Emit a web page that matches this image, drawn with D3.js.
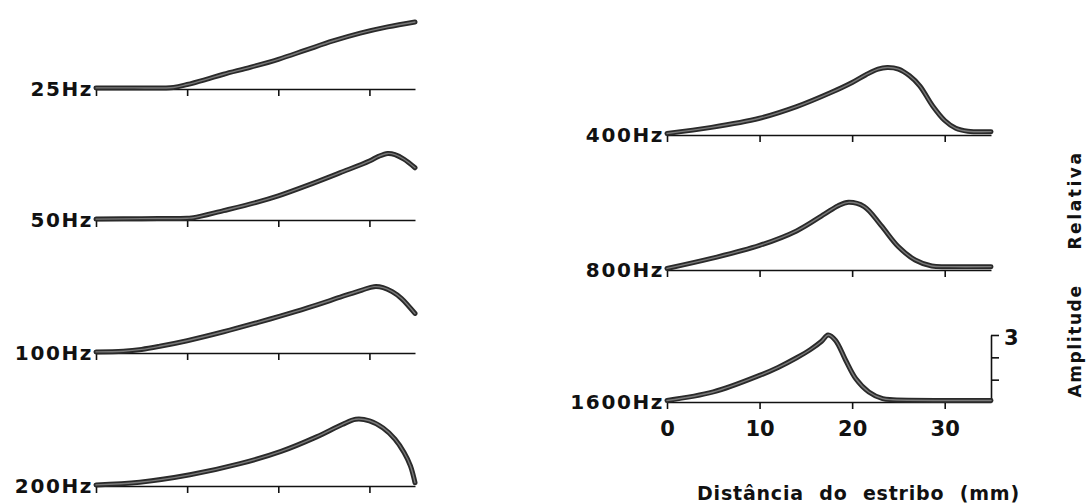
<!DOCTYPE html>
<html>
<head>
<meta charset="utf-8">
<script src="https://cdn.jsdelivr.net/npm/d3@7"></script>
<style>
  html, body { margin: 0; padding: 0; background: #fff; }
  svg { display: block; }
  text { font-family: "DejaVu Sans", "Liberation Sans", sans-serif; font-weight: bold; fill: #111; }
</style>
</head>
<body>
<svg id="chart" width="1088" height="504"></svg>
<script>
// ---- data (distance from stapes in mm, relative amplitude) ----
const freqLabels = ["25Hz", "50Hz", "100Hz", "200Hz", "400Hz", "800Hz", "1600Hz"];

const dist25 = [0, 4, 8.5, 10, 12, 14, 17, 20, 23, 26, 29, 32, 35];
const amp25  = [0.05, 0.05, 0.07, 0.2, 0.42, 0.66, 0.98, 1.33, 1.74, 2.15, 2.5, 2.78, 3.0];

const dist50 = [0, 5, 10, 10.7, 14, 17.7, 20, 23.2, 26.8, 30, 31, 32, 32.8, 33.8, 35];
const amp50  = [0.04, 0.06, 0.08, 0.1, 0.42, 0.8, 1.08, 1.55, 2.12, 2.64, 2.85, 2.98, 2.93, 2.72, 2.34];

const dist100 = [0, 3, 5, 7, 10, 14, 17.7, 20.2, 23.2, 26.8, 29.2, 30.5, 31.5, 32.5, 33.5, 35];
const amp100  = [0.05, 0.08, 0.16, 0.3, 0.55, 0.95, 1.36, 1.65, 2.02, 2.5, 2.82, 2.97, 2.93, 2.75, 2.45, 1.77];

const dist200 = [0, 4.8, 10.3, 15.8, 20.3, 24.2, 27, 28.5, 30, 31.5, 32.8, 33.8, 34.5, 35];
const amp200  = [0.05, 0.17, 0.5, 1.0, 1.55, 2.2, 2.75, 2.99, 2.92, 2.6, 2.1, 1.5, 0.9, 0.15];

const dist400 = [0, 4.8, 10, 14, 17.7, 20, 21.5, 22.8, 23.8, 25, 26.2, 27.3, 28.7, 30, 31.2, 32.5, 35];
const amp400  = [0.07, 0.34, 0.75, 1.27, 1.9, 2.35, 2.7, 2.95, 3.02, 2.95, 2.65, 2.2, 1.3, 0.65, 0.3, 0.17, 0.15];

const dist800 = [0, 4.8, 10, 14, 17, 18.5, 19.6, 21.3, 23.1, 25, 26.8, 28.6, 30.5, 35];
const amp800  = [0.07, 0.52, 1.1, 1.75, 2.5, 2.88, 3.03, 2.84, 2.01, 1.04, 0.45, 0.18, 0.15, 0.15];

const dist1600 = [0, 5, 10, 12, 14, 15.5, 16.7, 17.4, 18.2, 19.3, 20.4, 21.8, 23.3, 24.4, 35];
const amp1600  = [0.07, 0.45, 1.19, 1.55, 1.98, 2.35, 2.72, 3.0, 2.76, 1.87, 1.04, 0.45, 0.15, 0.1, 0.07];

const xTickValues = [0, 10, 20, 30];
const ampTickValues = [1, 2, 3];
const xDomain = [0, 35];
const ampDomain = [0, 3];
const xAxisTitle = "Distância do estribo (mm)";
const yTitleWords = ["Amplitude", "Relativa"];

// ---- layout ----
const dists = [dist25, dist50, dist100, dist200, dist400, dist800, dist1600];
const amps  = [amp25, amp50, amp100, amp200, amp400, amp800, amp1600];
const layout = [
  { col: 0, base: 89 }, { col: 0, base: 220 }, { col: 0, base: 353 }, { col: 0, base: 486 },
  { col: 1, base: 135 }, { col: 1, base: 270 }, { col: 1, base: 402 }
];
const xRanges = [[96, 415], [667, 991]];
const ampHeight = 67;

const svg = d3.select("#chart");

layout.forEach((L, i) => {
  const x = d3.scaleLinear().domain(xDomain).range(xRanges[L.col]);
  const y = d3.scaleLinear().domain(ampDomain).range([L.base, L.base - ampHeight]);
  const isLast = i === layout.length - 1;

  const axis = d3.axisBottom(x)
    .tickValues(xTickValues)
    .tickSize(7)
    .tickSizeOuter(0)
    .tickPadding(12)
    .tickFormat(isLast ? d3.format("d") : () => "");
  const gAxis = svg.append("g").attr("transform", `translate(0,${L.base})`).call(axis);
  gAxis.select(".domain").attr("stroke", "#111").attr("stroke-width", 1.6);
  gAxis.selectAll(".tick line").attr("stroke", "#111").attr("stroke-width", 1.6);
  gAxis.selectAll(".tick text")
    .attr("fill", "#111")
    .style("font-size", "21px")
    .style("font-family", '"DejaVu Sans", sans-serif')
    .style("font-weight", "bold");

  if (isLast) {
    const aAxis = d3.axisRight(y)
      .tickValues(ampTickValues)
      .tickSize(8)
      .tickSizeOuter(0)
      .tickPadding(5)
      .tickFormat(d => d === 3 ? "3" : "");
    const gA = svg.append("g").attr("transform", `translate(${x(35)},0)`).call(aAxis);
    gA.select(".domain").attr("stroke", "#111").attr("stroke-width", 1.6);
    gA.selectAll(".tick line").attr("stroke", "#111").attr("stroke-width", 1.6);
    gA.selectAll(".tick text")
      .attr("fill", "#111")
      .attr("dy", "0.45em")
      .style("font-size", "21px")
      .style("font-family", '"DejaVu Sans", sans-serif')
      .style("font-weight", "bold");
  }

  const pts = dists[i].map((d, k) => [d, amps[i][k]]);
  const line = d3.line().x(d => x(d[0])).y(d => y(d[1])).curve(d3.curveCatmullRom.alpha(0.5));
  svg.append("path").datum(pts).attr("d", line)
    .attr("fill", "none").attr("stroke", "#2a2a2a").attr("stroke-width", 5)
    .attr("stroke-linecap", "round").attr("stroke-linejoin", "round");
  svg.append("path").datum(pts).attr("d", line)
    .attr("fill", "none").attr("stroke", "#7a7a7a").attr("stroke-width", 1.4)
    .attr("stroke-linecap", "round");

  svg.append("text")
    .attr("x", xRanges[L.col][0] - 3)
    .attr("y", L.base + 7)
    .attr("text-anchor", "end")
    .style("font-size", "20px")
    .style("letter-spacing", "1.6px")
    .text(freqLabels[i]);
});

// x axis title
svg.append("text")
  .attr("x", 697)
  .attr("y", 500)
  .attr("text-anchor", "start")
  .style("font-size", "19px")
  .style("letter-spacing", "0.8px")
  .style("word-spacing", "8px")
  .text(xAxisTitle);

// y axis title (rotated)
const yTitleCenters = [341, 200];
yTitleWords.forEach((w, k) => {
  svg.append("text")
    .attr("transform", `translate(1081,${yTitleCenters[k]}) rotate(-90)`)
    .attr("text-anchor", "middle")
    .style("font-size", "17px")
    .style("letter-spacing", k === 0 ? "1.6px" : "2.6px")
    .text(w);
});
</script>
</body>
</html>
